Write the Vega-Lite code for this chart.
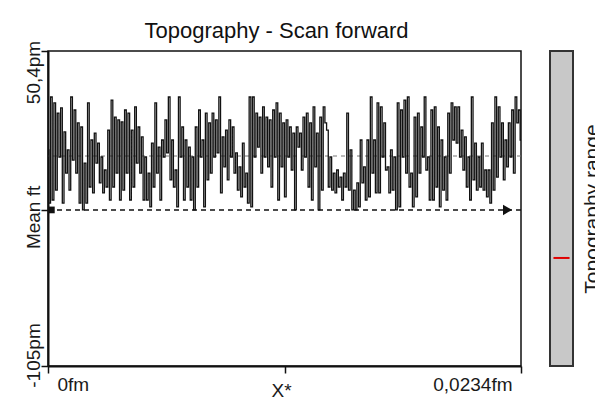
{
  "$schema": "https://vega.github.io/schema/vega-lite/v6.json",
  "padding": {"left": 23, "top": 19, "right": 0, "bottom": 0},
  "background": "white",
  "config": {
    "font": "Liberation Sans",
    "view": {"stroke": "#111", "strokeWidth": 1.5},
    "axis": {"grid": false, "domainColor": "#111", "tickColor": "#111", "labelColor": "#1a1a1a", "titleColor": "#1a1a1a"}
  },
  "datasets": {
    "signal": [
      {"i":0,"z":1.6},{"i":1,"z":-24.6},{"i":2,"z":27.7},{"i":3,"z":-23.1},{"i":4,"z":24.8},{"i":5,"z":-18.2},{"i":6,"z":19.8},{"i":7,"z":-1.9},{"i":8,"z":22.3},{"i":9,"z":-24.6},
      {"i":10,"z":10.5},{"i":11,"z":-9.8},{"i":12,"z":1.6},{"i":13,"z":-18.2},{"i":14,"z":27.7},{"i":15,"z":-3.4},{"i":16,"z":21.3},{"i":17,"z":-9.8},{"i":18,"z":14.9},{"i":19,"z":-24.6},
      {"i":20,"z":12.9},{"i":21,"z":-28.0},{"i":22,"z":-4.9},{"i":23,"z":-24.6},{"i":24,"z":24.8},{"i":25,"z":-16.7},{"i":26,"z":6.5},{"i":27,"z":-19.6},{"i":28,"z":9.9},{"i":29,"z":-4.9},
      {"i":30,"z":5.0},{"i":31,"z":-14.7},{"i":32,"z":-1.9},{"i":33,"z":-19.6},{"i":34,"z":-8.3},{"i":35,"z":-16.7},{"i":36,"z":11.4},{"i":37,"z":-23.1},{"i":38,"z":26.2},{"i":39,"z":-16.7},
      {"i":40,"z":17.8},{"i":41,"z":-9.8},
      {"i":42,"z":16.4},{"i":43,"z":-23.1},{"i":44,"z":15.4},{"i":45,"z":-18.2},{"i":46,"z":21.3},{"i":47,"z":-9.8},{"i":48,"z":19.8},{"i":49,"z":-23.1},{"i":50,"z":11.4},{"i":51,"z":-16.7},
      {"i":52,"z":22.8},{"i":53,"z":-4.9},{"i":54,"z":12.9},{"i":55,"z":-9.8},{"i":56,"z":8.0},{"i":57,"z":-23.1},{"i":58,"z":-1.9},{"i":59,"z":-23.1},{"i":60,"z":-9.8},{"i":61,"z":-26.5},
      {"i":62,"z":5.0},{"i":63,"z":-16.7},{"i":64,"z":24.8},{"i":65,"z":-9.8},{"i":66,"z":3.0},{"i":67,"z":-23.1},{"i":68,"z":6.5},{"i":69,"z":-1.9},{"i":70,"z":16.4},{"i":71,"z":0.1},
      {"i":72,"z":27.7},{"i":73,"z":-13.2},{"i":74,"z":6.5},{"i":75,"z":-16.7},{"i":76,"z":-8.3},{"i":77,"z":-26.5},{"i":78,"z":27.7},{"i":79,"z":-1.9},{"i":80,"z":12.9},{"i":81,"z":-23.1},
      {"i":82,"z":6.5},{"i":83,"z":-16.7},{"i":84,"z":3.0},{"i":85,"z":-23.1},{"i":86,"z":-1.9},{"i":87,"z":-28.0},{"i":88,"z":12.9},{"i":89,"z":-16.7},
      {"i":90,"z":21.3},{"i":91,"z":-1.9},{"i":92,"z":6.5},{"i":93,"z":-26.5},{"i":94,"z":19.8},{"i":95,"z":-13.2},{"i":96,"z":14.9},{"i":97,"z":-9.8},{"i":98,"z":19.8},{"i":99,"z":-1.9},
      {"i":100,"z":16.4},{"i":101,"z":0.1},{"i":102,"z":27.7},{"i":103,"z":-19.6},{"i":104,"z":8.0},{"i":105,"z":-6.8},{"i":106,"z":11.4},{"i":107,"z":-13.2},{"i":108,"z":16.4},{"i":109,"z":-1.9},
      {"i":110,"z":12.9},{"i":111,"z":-9.8},{"i":112,"z":0.1},{"i":113,"z":-18.2},{"i":114,"z":-6.8},{"i":115,"z":-21.6},{"i":116,"z":5.0},{"i":117,"z":-16.7},{"i":118,"z":-9.8},{"i":119,"z":-24.6},
      {"i":120,"z":27.7},{"i":121,"z":-26.5},{"i":122,"z":27.7},{"i":123,"z":-1.9},{"i":124,"z":19.8},{"i":125,"z":3.0},{"i":126,"z":17.8},{"i":127,"z":-9.8},{"i":128,"z":22.8},{"i":129,"z":-1.9},
      {"i":130,"z":17.8},{"i":131,"z":-6.8},{"i":132,"z":16.4},{"i":133,"z":-16.7},{"i":134,"z":21.3},{"i":135,"z":-1.9},{"i":136,"z":24.8},{"i":137,"z":-23.1},
      {"i":138,"z":19.8},{"i":139,"z":-6.8},{"i":140,"z":14.9},{"i":141,"z":-21.6},{"i":142,"z":16.4},{"i":143,"z":-1.9},{"i":144,"z":12.9},{"i":145,"z":-8.3},{"i":146,"z":9.9},{"i":147,"z":-28.0},
      {"i":148,"z":12.9},{"i":149,"z":3.0},{"i":150,"z":9.9},{"i":151,"z":-8.3},{"i":152,"z":17.8},{"i":153,"z":-1.9},{"i":154,"z":19.8},{"i":155,"z":-16.7},{"i":156,"z":14.9},{"i":157,"z":-23.1},
      {"i":158,"z":22.8},{"i":159,"z":-6.8},{"i":160,"z":9.9},{"i":161,"z":-28.0},{"i":162,"z":17.8},{"i":163,"z":-18.2},{"i":164,"z":22.8},{"i":165,"z":14.9},{"i":166,"z":11.4},{"i":167,"z":-16.7},
      {"i":168,"z":-1.9},{"i":169,"z":-18.2},{"i":170,"z":-9.8},{"i":171,"z":-19.6},{"i":172,"z":-8.3},{"i":173,"z":-16.7},{"i":174,"z":-11.8},{"i":175,"z":-23.1},{"i":176,"z":-9.8},{"i":177,"z":-16.7},
      {"i":178,"z":19.8},{"i":179,"z":-18.2},{"i":180,"z":1.6},{"i":181,"z":-28.0},{"i":182,"z":-18.2},{"i":183,"z":-28.0},{"i":184,"z":-14.7},{"i":185,"z":-26.5},{"i":186,"z":6.5},{"i":187,"z":-14.7},
      {"i":188,"z":-6.8},{"i":189,"z":-23.1},{"i":190,"z":6.5},{"i":191,"z":-21.6},{"i":192,"z":27.7},{"i":193,"z":-9.8},{"i":194,"z":6.5},{"i":195,"z":-19.6},{"i":196,"z":24.8},{"i":197,"z":-19.6},
      {"i":198,"z":22.8},{"i":199,"z":-1.9},{"i":200,"z":14.9},{"i":201,"z":-8.3},{"i":202,"z":-6.8},{"i":203,"z":-19.6},{"i":204,"z":1.6},{"i":205,"z":-18.2},{"i":206,"z":-1.9},{"i":207,"z":-28.0},
      {"i":208,"z":24.8},{"i":209,"z":-26.5},{"i":210,"z":21.3},{"i":211,"z":-1.9},{"i":212,"z":26.2},{"i":213,"z":-9.8},{"i":214,"z":27.7},{"i":215,"z":-16.7},{"i":216,"z":-9.8},{"i":217,"z":-26.5},
      {"i":218,"z":17.8},{"i":219,"z":-21.6},{"i":220,"z":19.8},{"i":221,"z":-9.8},{"i":222,"z":12.9},{"i":223,"z":-1.9},{"i":224,"z":27.7},{"i":225,"z":-8.3},{"i":226,"z":-1.9},{"i":227,"z":-23.1},
      {"i":228,"z":21.3},{"i":229,"z":-23.1},{"i":230,"z":22.8},{"i":231,"z":-16.7},{"i":232,"z":12.9},{"i":233,"z":-26.5},{"i":234,"z":6.5},{"i":235,"z":-18.2},
      {"i":236,"z":-1.9},{"i":237,"z":-23.1},{"i":238,"z":19.8},{"i":239,"z":-9.8},{"i":240,"z":24.8},{"i":241,"z":6.5},{"i":242,"z":22.8},{"i":243,"z":5.0},{"i":244,"z":22.8},{"i":245,"z":-1.9},
      {"i":246,"z":11.4},{"i":247,"z":-8.3},{"i":248,"z":8.0},{"i":249,"z":-16.7},{"i":250,"z":-1.9},{"i":251,"z":-23.1},{"i":252,"z":27.7},{"i":253,"z":-13.2},{"i":254,"z":5.0},{"i":255,"z":-18.2},
      {"i":256,"z":-1.9},{"i":257,"z":-16.7},{"i":258,"z":5.0},{"i":259,"z":-18.2},{"i":260,"z":-8.3},{"i":261,"z":-21.6},{"i":262,"z":-8.3},{"i":263,"z":-24.6},{"i":264,"z":14.9},{"i":265,"z":-18.2},
      {"i":266,"z":27.7},{"i":267,"z":-11.8},{"i":268,"z":22.8},{"i":269,"z":-1.9},{"i":270,"z":14.9},{"i":271,"z":-13.2},{"i":272,"z":6.5},{"i":273,"z":-6.8},{"i":274,"z":14.9},{"i":275,"z":-1.9},
      {"i":276,"z":21.3},{"i":277,"z":-9.8},{"i":278,"z":27.7},{"i":279,"z":14.9},{"i":280,"z":21.3},{"i":281,"z":6.5}
    ],
    "levels": [{"kind": "mean", "v": -28.0}, {"kind": "zero", "v": -1.4}],
    "markers": [{"kind": "start", "i": 2, "v": -28.0}, {"kind": "end", "i": 273, "v": -28.0}],
    "range": [{"v": -51.7, "a": 0.15, "b": 0.85}]
  },
  "spacing": 24,
  "hconcat": [
    {
      "width": 473,
      "height": 315,
      "title": {"text": "Topography - Scan forward", "fontSize": 22, "fontWeight": "normal", "color": "#111", "dx": -8, "offset": -3},
      "layer": [
        {
          "data": {"name": "levels"},
          "transform": [{"filter": "datum.kind == 'zero'"}],
          "mark": {"type": "rule", "color": "#777", "strokeDash": [4, 4], "strokeWidth": 1},
          "encoding": {
            "y": {"field": "v", "type": "quantitative", "scale": {"domain": [-105, 50.4], "nice": false, "zero": false}}
          }
        },
        {
          "data": {"name": "signal"},
          "mark": {"type": "line", "color": "#111", "strokeWidth": 1.3, "interpolate": "step"},
          "encoding": {
            "x": {
              "field": "i", "type": "quantitative",
              "scale": {"domain": [0, 281], "nice": false, "zero": false},
              "axis": {
                "values": [0, 140.5, 281],
                "labelExpr": "datum.value == 0 ? '0fm' : (datum.value == 281 ? '0,0234fm' : '')",
                "labelFlush": true, "labelFlushOffset": -9, "labelOverlap": false,
                "labelFontSize": 19, "labelPadding": 2,
                "tickSize": 7, "tickWidth": 1.5, "domainWidth": 2,
                "title": "X*", "titleFontSize": 19, "titleFontWeight": "normal",
                "titleBaseline": "top", "titleY": 15, "titleX": 233
              }
            },
            "y": {
              "field": "z", "type": "quantitative",
              "scale": {"domain": [-105, 50.4], "nice": false, "zero": false},
              "axis": {
                "values": [-105, -28, 50.4],
                "labelExpr": "datum.value > 0 ? '50,4pm' : (datum.value < -100 ? '-105pm' : 'Mean ft')",
                "labelAngle": 270, "labelAlign": "center", "labelBaseline": "bottom",
                "labelFlush": false, "labelOverlap": false,
                "labelOffset": {"condition": [{"test": "datum.value > 0", "value": 21}, {"test": "datum.value < -100", "value": -11}], "value": 7},
                "labelFontSize": 19, "labelPadding": -2,
                "tickSize": 7, "tickWidth": 1.5, "domainWidth": 2,
                "title": null
              }
            }
          }
        },
        {
          "data": {"name": "levels"},
          "transform": [{"filter": "datum.kind == 'mean'"}],
          "mark": {"type": "rule", "color": "#111", "strokeDash": [5, 4], "strokeWidth": 1.5},
          "encoding": {
            "y": {"field": "v", "type": "quantitative", "scale": {"domain": [-105, 50.4], "nice": false, "zero": false}}
          }
        },
        {
          "data": {"name": "markers"},
          "transform": [{"filter": "datum.kind == 'start'"}],
          "mark": {"type": "point", "shape": "square", "filled": true, "color": "#111", "size": 45, "opacity": 1},
          "encoding": {
            "x": {"field": "i", "type": "quantitative"},
            "y": {"field": "v", "type": "quantitative"}
          }
        },
        {
          "data": {"name": "markers"},
          "transform": [{"filter": "datum.kind == 'end'"}],
          "mark": {"type": "point", "shape": "triangle-right", "filled": true, "color": "#111", "size": 110, "opacity": 1},
          "encoding": {
            "x": {"field": "i", "type": "quantitative"},
            "y": {"field": "v", "type": "quantitative"}
          }
        }
      ]
    },
    {
      "width": 23,
      "height": 315,
      "view": {"fill": "#c8c8c8", "stroke": "#333", "strokeWidth": 2},
      "data": {"name": "range"},
      "mark": {"type": "rule", "color": "#e00000", "strokeWidth": 2},
      "encoding": {
        "x": {"field": "a", "type": "quantitative", "scale": {"domain": [0, 1]}, "axis": null},
        "x2": {"field": "b"},
        "y": {
          "field": "v", "type": "quantitative",
          "scale": {"domain": [-105, 50.4], "nice": false, "zero": false},
          "axis": {
            "orient": "right", "title": "Topography range", "labels": false, "ticks": false, "domain": false,
            "titleAngle": 270, "titleBaseline": "top", "titleFontSize": 21, "titleFontWeight": "normal", "titlePadding": 8
          }
        }
      }
    }
  ]
}
